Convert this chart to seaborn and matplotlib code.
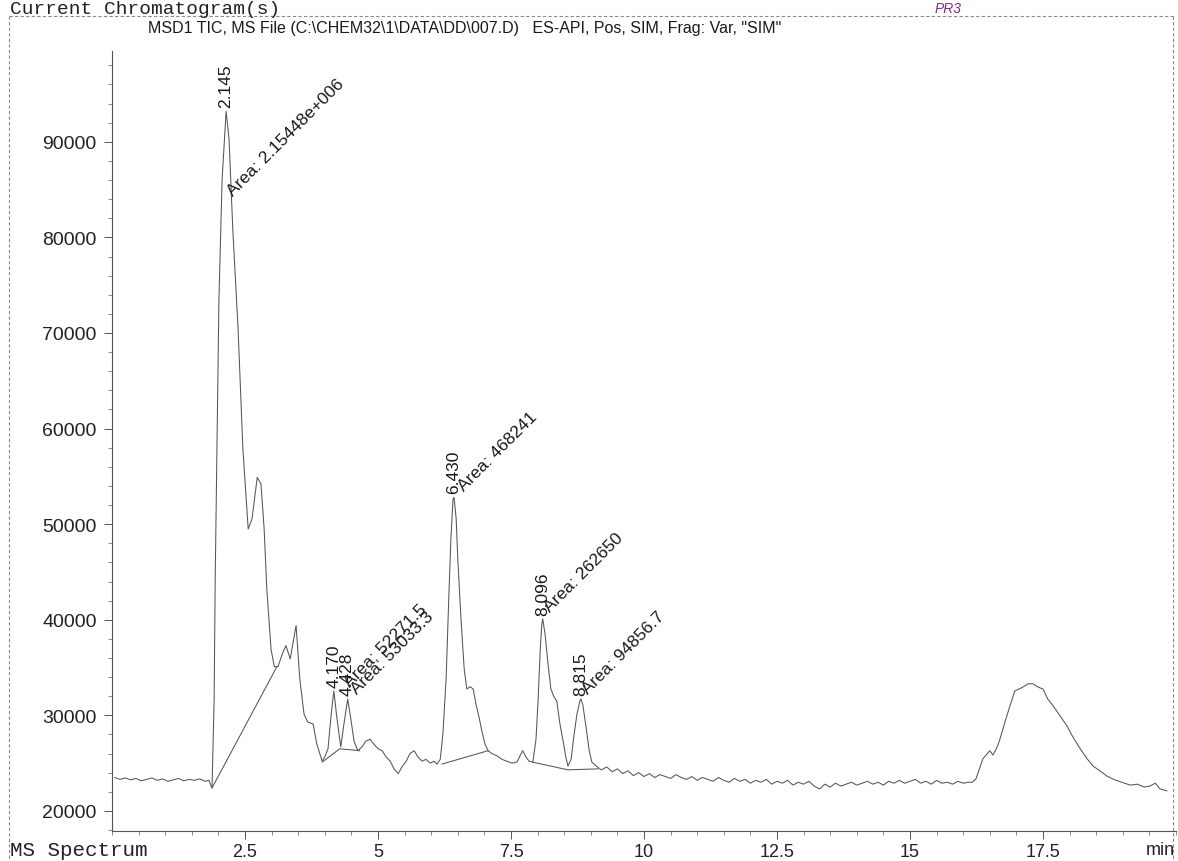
import matplotlib
matplotlib.use("Agg")
import matplotlib.pyplot as plt
import seaborn as sns
import pandas as pd
from matplotlib.ticker import FixedLocator, MultipleLocator
from matplotlib.lines import Line2D

# ---------------- data ----------------
time_min = [
    0.05, 0.15, 0.25, 0.35, 0.45, 0.55, 0.65, 0.75, 0.85, 0.95,
    1.05, 1.15, 1.25, 1.35, 1.45, 1.55, 1.65, 1.75, 1.82, 1.88,
    1.92, 1.94, 2.01, 2.07, 2.145, 2.20, 2.27, 2.37, 2.46, 2.56,
    2.63, 2.73, 2.80, 2.86, 2.91, 2.99, 3.05, 3.12, 3.20, 3.27,
    3.35, 3.46, 3.53, 3.61, 3.68, 3.78, 3.85, 3.95, 4.00, 4.06,
    4.12, 4.17, 4.23, 4.30, 4.36, 4.43, 4.49, 4.55, 4.62, 4.70,
    4.77, 4.85, 4.92, 5.00, 5.08, 5.15, 5.23, 5.30, 5.38, 5.45,
    5.53, 5.60, 5.68, 5.75, 5.83, 5.90, 5.98, 6.05, 6.11, 6.17,
    6.22, 6.28, 6.33, 6.37, 6.41, 6.43, 6.47, 6.50, 6.56, 6.62,
    6.67, 6.73, 6.79, 6.84, 6.90, 6.95, 7.01, 7.07, 7.14, 7.24,
    7.33, 7.42, 7.52, 7.61, 7.69, 7.72, 7.78, 7.84, 7.91, 7.97,
    8.01, 8.05, 8.08, 8.096, 8.14, 8.20, 8.25, 8.31, 8.36, 8.42,
    8.48, 8.53, 8.57, 8.63, 8.68, 8.74, 8.80, 8.815, 8.85, 8.91,
    8.97, 9.02, 9.10, 9.17,
    9.2, 9.3, 9.4, 9.5, 9.6, 9.7, 9.8, 9.9, 10.0, 10.1,
    10.2, 10.3, 10.4, 10.5, 10.6, 10.7, 10.8, 10.9, 11.0, 11.1,
    11.2, 11.3, 11.4, 11.5, 11.6, 11.7, 11.8, 11.9, 12.0, 12.1,
    12.2, 12.3, 12.4, 12.5, 12.6, 12.7, 12.8, 12.9, 13.0, 13.1,
    13.2, 13.3, 13.4, 13.5, 13.6, 13.7, 13.8, 13.9, 14.0, 14.1,
    14.2, 14.3, 14.4, 14.5, 14.6, 14.7, 14.8, 14.9, 15.0, 15.1,
    15.2, 15.3, 15.4, 15.5, 15.6, 15.7, 15.8, 15.9, 16.0, 16.1,
    16.17, 16.24, 16.37, 16.50, 16.56, 16.64, 16.69, 16.79, 16.88, 16.97,
    17.05, 17.12, 17.22, 17.31, 17.41, 17.50, 17.59, 17.69, 17.82, 17.95,
    18.06, 18.20, 18.33, 18.44, 18.57, 18.70, 18.85, 18.98, 19.14, 19.27,
    19.40, 19.51, 19.61, 19.70, 19.83,
]
abundance = [
    23500, 23300, 23450, 23250, 23400, 23150, 23300, 23450, 23200, 23350,
    23100, 23250, 23400, 23150, 23300, 23200, 23350, 23100, 23200, 22400,
    31700, 44300, 73500, 86100, 93200, 90300, 80900, 70400, 57900, 49500,
    50500, 54900, 54200, 49500, 43200, 36900, 35100, 35100, 36400, 37300,
    35900, 39400, 33800, 30100, 29300, 29100, 27000, 25200, 25650, 26500,
    30100, 32550, 29600, 26700, 29100, 31700, 29600, 27300, 26300, 26700,
    27300, 27500, 27000, 26500, 26300, 25650, 25200, 24400, 23900, 24600,
    25200, 26000, 26300, 25650, 25200, 25400, 25000, 25200, 24900, 25400,
    28050, 33800, 42200, 48450, 52600, 52800, 50500, 46350, 40100, 34850,
    32750, 33000, 32750, 31200, 29800, 28400, 27000, 26300, 26000, 25750,
    25400, 25200, 25000, 25100, 26000, 26300, 25650, 25200, 25100, 27500,
    31700, 36950, 39550, 40100, 38500, 35150, 32750, 31900, 31500, 29100,
    27300, 25650, 24700, 25400, 27750, 30150, 31600, 31700, 31100, 28800,
    26300, 25100, 24700, 24400,
    24300, 24600, 24100, 24400, 23900, 24200, 23700, 24000, 23600, 23900,
    23500, 23800, 23600, 23400, 23800, 23500, 23300, 23600, 23200, 23500,
    23300, 23100, 23500, 23200, 23000, 23400, 23100, 23300, 22900, 23200,
    23000, 23300, 22800, 23100, 22900, 23200, 22700, 23000, 22800, 23100,
    22600, 22300, 22800, 22500, 22900, 22600, 22800, 23000, 22700, 22900,
    23100, 22800, 23000, 22700, 23100, 22900, 23200, 22900, 23100, 23300,
    22900, 23100, 22800, 23200, 22900, 23000, 22800, 23100, 22900, 23000,
    23000, 23350, 25450, 26300, 25850, 26700, 27500, 29400, 31000, 32550,
    32750, 32950, 33300, 33300, 32950, 32750, 31700, 31000, 29950, 28900,
    27750, 26500, 25450, 24700, 24200, 23650, 23250, 23000, 22700, 22800,
    22500, 22600, 22900, 22300, 22100,
]

peak_rt = [2.145, 4.170, 4.428, 6.430, 8.096, 8.815]
peak_apex = [93200, 32550, 31700, 52800, 40100, 31700]
peak_rt_labels = ["2.145", "4.170", "4.428", "6.430", "8.096", "8.815"]
peak_area_labels = ["Area: 2.15448e+006", "Area: 52271.5", "Area: 53033.3",
                    "Area: 468241", "Area: 262650", "Area: 94856.7"]

baseline_t = [[1.88, 3.10], [3.95, 4.28, 4.66], [6.20, 7.07], [7.91, 8.57, 9.14]]
baseline_v = [[22400, 35100], [25100, 26500, 26300], [24900, 26300], [25100, 24300, 24400]]

x_ticks = [2.5, 5, 7.5, 10, 12.5, 15, 17.5]
x_tick_labels = ["2.5", "5", "7.5", "10", "12.5", "15", "17.5"]
y_ticks = [20000, 30000, 40000, 50000, 60000, 70000, 80000, 90000]
y_tick_labels = ["20000", "30000", "40000", "50000", "60000", "70000", "80000", "90000"]

header_text = "Current Chromatogram(s)"
footer_text = "MS Spectrum"
title_text = 'MSD1 TIC, MS File (C:\\CHEM32\\1\\DATA\\DD\\007.D)   ES-API, Pos, SIM, Frag: Var, "SIM"'
note_text = "PR3"

# ---------------- style ----------------
sns.set_theme(style="ticks")
plt.rcParams["font.family"] = ["Liberation Sans", "DejaVu Sans"]

W, H = 1178, 862
fig = plt.figure(figsize=(W / 100, H / 100), dpi=100)
fig.patch.set_facecolor("white")

ax_l, ax_r, ax_t, ax_b = 112, 1176, 52, 832
ax = fig.add_axes([ax_l / W, 1 - ax_b / H, (ax_r - ax_l) / W, (ax_b - ax_t) / H])
ax.set_facecolor("white")

df = pd.DataFrame({"time": time_min, "abundance": abundance})
line_col = "#555555"
sns.lineplot(data=df, x="time", y="abundance", ax=ax, color=line_col,
             linewidth=0.75, sort=False, estimator=None)

for bt, bv in zip(baseline_t, baseline_v):
    ax.plot(bt, bv, color=line_col, linewidth=0.75)

ax.set_xlim(0, 20)
ax.set_ylim(17900, 99500)

ax.xaxis.set_major_locator(FixedLocator(x_ticks))
ax.set_xticklabels(x_tick_labels)
ax.xaxis.set_minor_locator(MultipleLocator(0.5))
ax.yaxis.set_major_locator(FixedLocator(y_ticks))
ax.set_yticklabels(y_tick_labels)
ax.yaxis.set_minor_locator(MultipleLocator(2000))

ax.tick_params(axis="x", which="major", direction="out", length=6, width=0.7,
               labelsize=13, pad=3, color="#555555", labelcolor="#222222")
ax.tick_params(axis="x", which="minor", direction="out", length=3, width=0.6, color="#777777")
ax.tick_params(axis="y", which="major", direction="out", length=6, width=0.7,
               labelsize=14, pad=5, color="#555555", labelcolor="#222222")
ax.tick_params(axis="y", which="minor", direction="out", length=3, width=0.6, color="#777777")

ax.set_xlabel("")
ax.set_ylabel("")
for s in ["top", "right"]:
    ax.spines[s].set_visible(False)
for s in ["left", "bottom"]:
    ax.spines[s].set_color("#555555")
    ax.spines[s].set_linewidth(0.8)

# peak annotations
area_dx = [7, 16, 9, 10, 7, 7]
area_dy = [-85, 4, 5, 6, 7, 5]
for rt, ap, lab, area, dx, dy in zip(peak_rt, peak_apex, peak_rt_labels,
                                     peak_area_labels, area_dx, area_dy):
    ax.annotate(lab, xy=(rt, ap), xytext=(0, 4), textcoords="offset pixels",
                rotation=90, ha="center", va="bottom", fontsize=12.5,
                color="#1a1a1a", annotation_clip=False)
    ax.annotate(area, xy=(rt, ap), xytext=(dx, dy), textcoords="offset pixels",
                rotation=45, rotation_mode="anchor", ha="left", va="baseline",
                fontsize=12.5, color="#1a1a1a", annotation_clip=False)

# header / frame decorations
fig.text(10 / W, 1 - 10 / H, header_text, family="Liberation Mono", fontsize=14,
         ha="left", va="center", color="#222222")
fig.text(10 / W, 1 - 851 / H, footer_text, family="Liberation Mono", fontsize=15,
         ha="left", va="center", color="#222222")
fig.text(148 / W, 1 - 29 / H, title_text, fontsize=11.5, ha="left", va="center",
         color="#1a1a1a")
fig.text(1160 / W, 1 - 851 / H, "min", fontsize=13, ha="center", va="center",
         color="#222222")
fig.text(948 / W, 1 - 9 / H, note_text, fontsize=10, fontstyle="italic",
         ha="center", va="center", color="#7a2f8a")

dash = dict(color="#8a8a8a", linewidth=0.8, linestyle=(0, (3, 2)))
fig.add_artist(Line2D([9 / W, 1173 / W], [1 - 17 / H, 1 - 17 / H], **dash))
fig.add_artist(Line2D([9 / W, 9 / W], [1 - 17 / H, 1 - 860 / H], **dash))
fig.add_artist(Line2D([1173 / W, 1173 / W], [1 - 17 / H, 1 - 860 / H], **dash))

fig.savefig("out.png", dpi=100, facecolor="white")
